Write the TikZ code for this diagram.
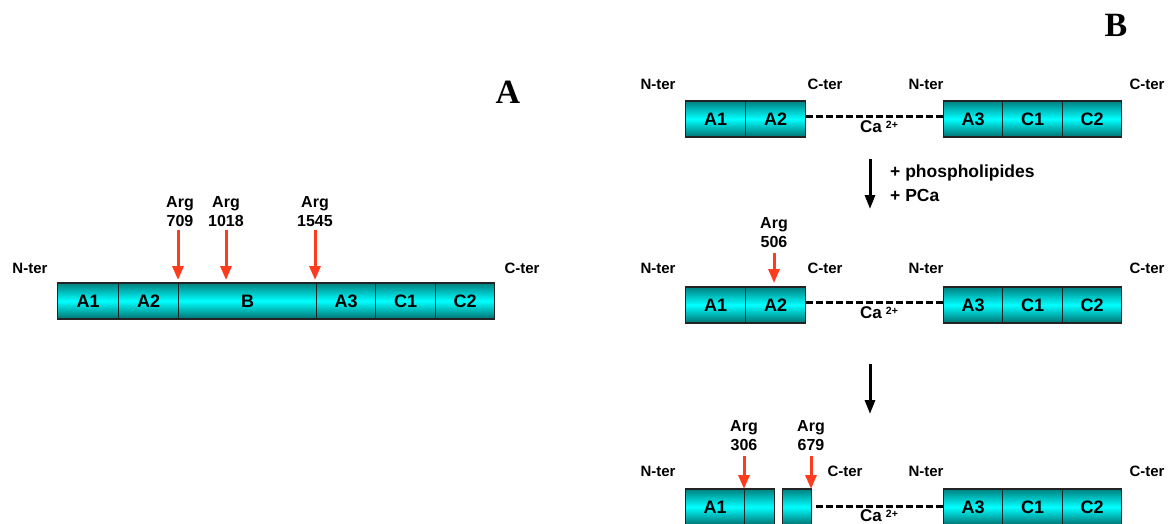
\documentclass[tikz,border=0pt]{standalone}
\usepackage{fontspec}
\setmainfont{Liberation Sans}
\newfontfamily\panelfont{Liberation Serif}
\usetikzlibrary{arrows.meta}
\definecolor{tealdark}{RGB}{0,128,128}
\definecolor{tealbot}{RGB}{0,112,112}
\definecolor{cyanmid}{RGB}{0,255,255}
\definecolor{cutred}{RGB}{255,60,30}
\definecolor{edgegray}{RGB}{35,35,35}
\tikzset{
  seg/.style={rectangle, draw=edgegray, line width=1.1pt, inner sep=0pt, anchor=west,
    minimum height=36pt, top color=tealdark, bottom color=tealbot, middle color=cyanmid,
    font=\fontsize{18}{18}\selectfont\bfseries},
  ter/.style={inner sep=0pt, font=\fontsize{15}{15}\selectfont\bfseries},
  arglbl/.style={inner sep=0pt, anchor=south, align=center, font=\fontsize{16}{19}\selectfont\bfseries},
  cutarrow/.style={draw=cutred, line width=3pt, -{Triangle[width=11pt,length=14pt]}},
  steparrow/.style={draw=black, line width=3pt, -{Triangle[width=10pt,length=14pt]}},
  link/.style={draw=black, line width=3pt, dash pattern=on 6.5pt off 3.5pt},
  calbl/.style={inner sep=0pt, anchor=base west, font=\fontsize{17}{17}\selectfont\bfseries},
  addlbl/.style={inner sep=0pt, anchor=west, font=\fontsize{17.5}{17.5}\selectfont\bfseries},
  panel/.style={inner sep=0pt, font=\fontsize{34}{34}\selectfont\panelfont\bfseries}
}
\newcommand{\calcium}{Ca\hspace{4pt}\raisebox{4pt}{\fontsize{10.5}{10.5}\selectfont 2+}}
\begin{document}
\begin{tikzpicture}[x=1pt,y=-1pt]
\useasboundingbox[fill=white] (0,0) rectangle (1170,524);

% ---------------- Panel A ----------------
\node[panel] (labA) at (508,92) {A};
\node[ter] (antr) at (30,268) {N-ter};
\node[ter] (actr) at (522,268) {C-ter};
\node[seg, minimum width=61pt] (aA1) at (57,301) {A1};
\node[seg, minimum width=60pt] (aA2) at (118,301) {A2};
\node[seg, minimum width=138pt] (aB) at (178,301) {B};
\node[seg, minimum width=59pt] (aA3) at (316,301) {A3};
\node[seg, minimum width=60pt] (aC1) at (375,301) {C1};
\node[seg, minimum width=59pt] (aC2) at (435,301) {C2};

\node[arglbl] (l709) at (180,226.5) {Arg\\709};
\node[arglbl] (l1018) at (226,226.5) {Arg\\1018};
\node[arglbl] (l1545) at (315,226.5) {Arg\\1545};
\coordinate (t709) at (178,280);
\coordinate (t1018) at (226,280);
\coordinate (t1545) at (315,280);
\draw[cutarrow] ([yshift=-3pt]l709.south -| t709) -- (t709);
\draw[cutarrow] ([yshift=-3pt]l1018.south -| t1018) -- (t1018);
\draw[cutarrow] ([yshift=-3pt]l1545.south -| t1545) -- (t1545);

% ---------------- Panel B ----------------
\node[panel] (labB) at (1116,25) {B};

% row 1
\node[ter] (r1n1) at (658,84) {N-ter};
\node[ter] (r1c1) at (825,84) {C-ter};
\node[ter] (r1n2) at (926,84) {N-ter};
\node[ter] (r1c2) at (1147,84) {C-ter};
\node[seg, minimum width=60pt] (r1A1) at (685,119) {A1};
\node[seg, minimum width=60pt] (r1A2) at (745,119) {A2};
\node[seg, minimum width=59pt] (r1A3) at (943,119) {A3};
\node[seg, minimum width=60pt] (r1C1) at (1002,119) {C1};
\node[seg, minimum width=59pt] (r1C2) at (1062,119) {C2};
\draw[link] ([yshift=2.5pt]r1A2.east) -- ([yshift=2.5pt]r1A3.west);
\node[calbl] (r1ca) at (860,133) {\calcium};

% step arrow 1
\coordinate (s1a) at (870,159);
\coordinate (s1b) at (870,209);
\draw[steparrow] (s1a) -- (s1b);
\node[addlbl] (add1) at (890,173) {+ phospholipides};
\node[addlbl] (add2) at (890,195) {+ PCa};

% row 2
\node[ter] (r2n1) at (658,268) {N-ter};
\node[ter] (r2c1) at (825,268) {C-ter};
\node[ter] (r2n2) at (926,268) {N-ter};
\node[ter] (r2c2) at (1147,268) {C-ter};
\node[seg, minimum width=60pt] (r2A1) at (685,305) {A1};
\node[seg, minimum width=60pt] (r2A2) at (745,305) {A2};
\node[seg, minimum width=59pt] (r2A3) at (943,305) {A3};
\node[seg, minimum width=60pt] (r2C1) at (1002,305) {C1};
\node[seg, minimum width=59pt] (r2C2) at (1062,305) {C2};
\draw[link] ([yshift=2.5pt]r2A2.east) -- ([yshift=2.5pt]r2A3.west);
\node[calbl] (r2ca) at (860,318) {\calcium};
\node[arglbl] (l506) at (774,247.5) {Arg\\506};
\coordinate (t506) at (774,283);
\draw[cutarrow] ([yshift=-5pt]l506.south) -- (t506);

% step arrow 2
\coordinate (s2a) at (870,364);
\coordinate (s2b) at (870,414);
\draw[steparrow] (s2a) -- (s2b);

% row 3
\node[ter] (r3n1) at (658,471) {N-ter};
\node[ter] (r3c1) at (845,471) {C-ter};
\node[ter] (r3n2) at (926,471) {N-ter};
\node[ter] (r3c2) at (1147,471) {C-ter};
\node[seg, minimum width=59pt] (r3A1) at (685,507) {A1};
\node[seg, minimum width=30pt] (r3p1) at (744,507) {};
\node[seg, minimum width=29pt] (r3p2) at (782,507) {};
\node[seg, minimum width=59pt] (r3A3) at (943,507) {A3};
\node[seg, minimum width=60pt] (r3C1) at (1002,507) {C1};
\node[seg, minimum width=59pt] (r3C2) at (1062,507) {C2};
\draw[link] ([xshift=4pt,yshift=1pt]r3p2.east) -- ([yshift=1pt]r3A3.west);
\node[calbl] (r3ca) at (860,521) {\calcium};
\node[arglbl] (l306) at (744,451) {Arg\\306};
\node[arglbl] (l679) at (811,451) {Arg\\679};
\coordinate (t306) at (744,489);
\coordinate (t679) at (811,489);
\draw[cutarrow] ([yshift=-5pt]l306.south) -- (t306);
\draw[cutarrow] ([yshift=-5pt]l679.south) -- (t679);
\end{tikzpicture}
\end{document}
